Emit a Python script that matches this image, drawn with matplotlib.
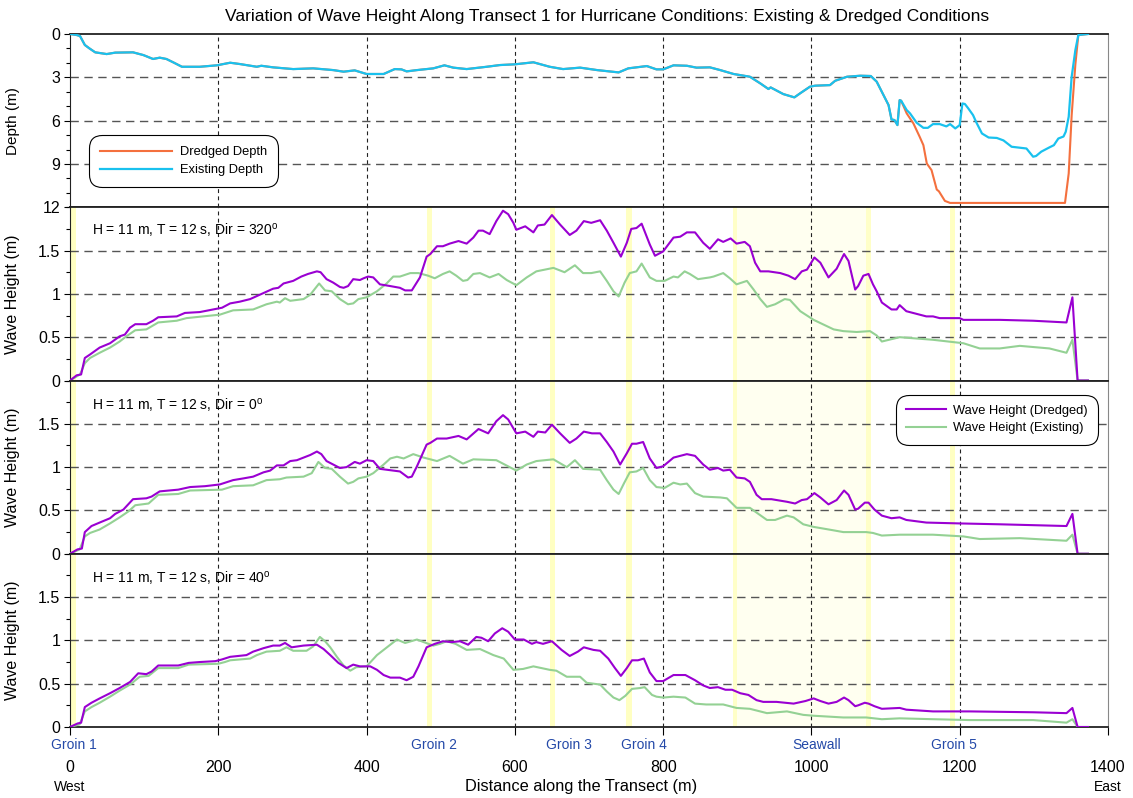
import numpy as np
import matplotlib
matplotlib.use("Agg")
import matplotlib.pyplot as plt
from matplotlib.ticker import MultipleLocator, FixedLocator
from matplotlib.lines import Line2D
import matplotlib.transforms as mtransforms

plt.rcParams['font.family'] = ['Liberation Sans', 'DejaVu Sans']
plt.rcParams['mathtext.fontset'] = 'custom'
plt.rcParams['mathtext.rm'] = 'Liberation Sans'

# ---- data (distance m, value) ----
depth_existing = [
    (0, 0), (9, 0.07), (13.5, 0.14), (20, 0.76), (26, 0.99), (34, 1.27), (49.5, 1.39), (61, 1.29),
    (85, 1.27), (99, 1.46), (112, 1.73), (121, 1.64), (130, 1.73), (139.5, 1.97), (151, 2.27),
    (175, 2.27), (198, 2.17), (216, 1.99), (229, 2.08), (252, 2.27), (258, 2.2), (274, 2.31),
    (301, 2.43), (328, 2.38), (355, 2.5), (369, 2.61), (384, 2.52), (400, 2.77), (423, 2.77),
    (438, 2.43), (447, 2.45), (454, 2.59), (468, 2.5), (490, 2.38), (505, 2.17), (517, 2.33),
    (535, 2.43), (562, 2.27), (580, 2.15), (600, 2.10), (625, 1.96), (647, 2.27), (665, 2.43),
    (688, 2.33), (711, 2.5), (740, 2.66), (753, 2.38), (778, 2.22), (791, 2.45), (800, 2.45),
    (814, 2.17), (832, 2.2), (845, 2.33), (863, 2.31), (877, 2.5), (895, 2.77), (917, 2.96),
    (931, 3.42), (942, 3.81), (945, 3.7), (962, 4.16), (977, 4.39), (985, 4.1), (998, 3.65),
    (1005, 3.58), (1025, 3.54), (1032, 3.24), (1048, 2.96), (1066, 2.89), (1080, 2.91),
    (1088, 3.3), (1096, 4.11), (1104, 4.92), (1108, 5.92), (1112, 5.96), (1116, 6.31),
    (1119, 4.58), (1121, 4.62), (1128.5, 5.27), (1133, 5.5), (1142, 6.15), (1151, 6.5),
    (1157, 6.5), (1164, 6.24), (1173, 6.24), (1182, 6.4), (1187, 6.24), (1194, 6.54),
    (1200, 6.31), (1203.6, 4.81), (1207, 4.85), (1211.5, 5.15), (1218, 5.62), (1222, 6.08),
    (1230, 6.89), (1239, 7.17), (1250, 7.2), (1259, 7.37), (1270, 7.81), (1290, 7.93),
    (1299, 8.5), (1303, 8.45), (1310, 8.15), (1320, 7.88), (1327, 7.7), (1333, 7.24),
    (1340, 7.1), (1343, 6.77), (1347, 5.73), (1351, 2.96), (1356, 1.11), (1360, 0.07), (1373, 0)]

# dredged profile follows the existing one up to the dredge cut
dredge_start = 1125
depth_dredged_tail = [
    (1128.5, 5.5), (1137.5, 6.19), (1146, 7.12), (1151, 7.7), (1155.6, 8.97), (1162, 9.43),
    (1169, 10.77), (1172, 10.9), (1180, 11.56), (1187, 11.7), (1342, 11.7), (1347, 9.66),
    (1351, 5.62), (1356, 2.1), (1360, 0.07), (1373, 0)]

wave_dredged_320 = [
    (0, 0), (9, 0.06), (15, 0.07), (20, 0.26), (27, 0.30), (40, 0.38), (54, 0.43), (67, 0.51),
    (74, 0.53), (81, 0.61), (88, 0.65), (103, 0.65), (112, 0.69), (119, 0.73), (144, 0.74),
    (155, 0.78), (175, 0.79), (193, 0.82), (205, 0.84), (216, 0.89), (229, 0.91), (243, 0.94),
    (261, 1.01), (274, 1.06), (281, 1.07), (288, 1.12), (301, 1.15), (312, 1.20), (321, 1.23),
    (333, 1.26), (338, 1.25), (346, 1.17), (355, 1.13), (364, 1.08), (369, 1.07), (375, 1.09),
    (382, 1.17), (391, 1.16), (396, 1.18), (402, 1.20), (409, 1.19), (418, 1.11), (432, 1.09),
    (445, 1.07), (452, 1.04), (461, 1.04), (472, 1.19), (481, 1.43), (486, 1.46), (495, 1.55),
    (503, 1.55), (512, 1.58), (524, 1.61), (535, 1.58), (544, 1.65), (551, 1.73), (557, 1.73),
    (566, 1.69), (575, 1.84), (584, 1.96), (591, 1.92), (598, 1.82), (602, 1.74), (614, 1.78),
    (625, 1.71), (631, 1.79), (640, 1.80), (650, 1.91), (661, 1.80), (674, 1.68), (683, 1.73),
    (693, 1.84), (703, 1.82), (715, 1.85), (724, 1.73), (733, 1.59), (743, 1.43), (751, 1.59),
    (757, 1.75), (764, 1.76), (771, 1.81), (782, 1.57), (789, 1.44), (800, 1.49), (814, 1.65),
    (823, 1.66), (832, 1.71), (843, 1.71), (854, 1.59), (863, 1.52), (874, 1.63), (881, 1.60),
    (891, 1.64), (899, 1.58), (910, 1.60), (917, 1.55), (924, 1.36), (931, 1.26), (942, 1.26),
    (958, 1.24), (969, 1.21), (978, 1.17), (987, 1.26), (994, 1.28), (1004, 1.42), (1012, 1.36),
    (1023, 1.19), (1034, 1.29), (1044, 1.46), (1050, 1.38), (1059, 1.05), (1063, 1.09),
    (1070, 1.21), (1077, 1.23), (1083, 1.11), (1088, 1.03), (1095, 0.90), (1108, 0.82),
    (1115, 0.82), (1119, 0.87), (1128, 0.80), (1146, 0.76), (1155, 0.74), (1164, 0.74),
    (1173, 0.72), (1200, 0.72), (1205, 0.70), (1254, 0.70), (1299, 0.69), (1344, 0.67),
    (1352, 0.96), (1359, 0), (1373, 0)]

wave_existing_320 = [
    (0, 0), (13.5, 0.07), (20, 0.20), (27, 0.26), (40, 0.32), (54, 0.38), (67, 0.45), (76, 0.51),
    (88, 0.58), (103, 0.59), (119, 0.67), (144, 0.69), (157, 0.72), (202, 0.76), (220, 0.81),
    (247, 0.82), (265, 0.88), (279, 0.91), (283, 0.90), (290, 0.95), (297, 0.92), (315, 0.94),
    (324, 0.99), (336, 1.12), (344, 1.04), (353, 1.03), (364, 0.94), (375, 0.88), (382, 0.89),
    (389, 0.94), (400, 0.96), (414, 1.03), (427, 1.12), (436, 1.20), (445, 1.20), (459, 1.24),
    (470, 1.24), (483, 1.21), (492, 1.18), (503, 1.23), (512, 1.26), (521, 1.21), (530, 1.15),
    (536, 1.16), (544, 1.23), (553, 1.24), (566, 1.19), (578, 1.23), (589, 1.16), (602, 1.10),
    (616, 1.19), (629, 1.26), (652, 1.30), (667, 1.25), (681, 1.33), (692, 1.24), (703, 1.24),
    (715, 1.26), (724, 1.15), (733, 1.03), (740, 0.97), (748, 1.13), (755, 1.24), (764, 1.26),
    (771, 1.35), (782, 1.19), (791, 1.15), (802, 1.15), (814, 1.20), (820, 1.19), (829, 1.26),
    (836, 1.23), (847, 1.17), (863, 1.19), (868, 1.20), (881, 1.24), (890, 1.18), (899, 1.11),
    (913, 1.15), (922, 1.05), (931, 0.94), (940, 0.85), (951, 0.88), (964, 0.94), (971, 0.93),
    (985, 0.80), (1003, 0.70), (1030, 0.59), (1043, 0.57), (1061, 0.56), (1079, 0.57),
    (1088, 0.52), (1095, 0.45), (1119, 0.50), (1164, 0.47), (1205, 0.43), (1227, 0.37),
    (1254, 0.37), (1281, 0.40), (1321, 0.37), (1344, 0.32), (1352, 0.47), (1359, 0), (1373, 0)]

wave_dredged_0 = [
    (0, 0), (10, 0.05), (16, 0.06), (20, 0.25), (29, 0.32), (40, 0.36), (54, 0.41), (61, 0.46),
    (72, 0.51), (85, 0.63), (103, 0.64), (110, 0.66), (121, 0.72), (146, 0.74), (162, 0.77),
    (182, 0.78), (202, 0.80), (220, 0.85), (234, 0.87), (247, 0.89), (261, 0.94), (270, 0.96),
    (279, 1.02), (288, 1.02), (297, 1.07), (306, 1.08), (315, 1.11), (324, 1.14), (333, 1.18),
    (339, 1.15), (346, 1.07), (355, 1.03), (364, 0.99), (373, 1.00), (384, 1.06), (391, 1.04),
    (400, 1.08), (409, 1.07), (418, 0.98), (436, 0.96), (445, 0.95), (456, 0.88), (461, 0.89),
    (468, 1.01), (481, 1.26), (486, 1.28), (495, 1.33), (508, 1.33), (524, 1.36), (535, 1.32),
    (551, 1.44), (564, 1.39), (575, 1.53), (584, 1.60), (591, 1.55), (602, 1.39), (614, 1.41),
    (625, 1.35), (631, 1.41), (641, 1.40), (650, 1.49), (661, 1.39), (674, 1.28), (683, 1.33),
    (693, 1.41), (704, 1.39), (715, 1.39), (724, 1.29), (733, 1.18), (742, 1.03), (751, 1.16),
    (758, 1.27), (764, 1.27), (773, 1.29), (782, 1.10), (791, 0.99), (800, 1.01), (814, 1.11),
    (832, 1.15), (843, 1.13), (854, 1.03), (863, 0.97), (874, 0.99), (881, 0.96), (890, 0.97),
    (899, 0.88), (910, 0.87), (917, 0.83), (926, 0.68), (933, 0.63), (946, 0.63), (967, 0.60),
    (978, 0.58), (987, 0.62), (994, 0.63), (1004, 0.70), (1012, 0.65), (1023, 0.57),
    (1034, 0.62), (1044, 0.73), (1050, 0.68), (1059, 0.51), (1063, 0.52), (1072, 0.59),
    (1077, 0.59), (1085, 0.51), (1095, 0.44), (1108, 0.41), (1119, 0.42), (1128, 0.39),
    (1155, 0.36), (1200, 0.35), (1254, 0.34), (1299, 0.33), (1344, 0.32), (1352, 0.46),
    (1359, 0), (1373, 0)]

wave_existing_0 = [
    (0, 0), (13, 0.05), (20, 0.20), (27, 0.24), (40, 0.28), (54, 0.35), (67, 0.42), (79, 0.49),
    (88, 0.56), (106, 0.58), (119, 0.68), (146, 0.69), (162, 0.73), (205, 0.74), (220, 0.78),
    (247, 0.79), (265, 0.85), (283, 0.86), (292, 0.88), (315, 0.89), (326, 0.93), (335, 1.06),
    (344, 0.99), (353, 0.98), (364, 0.89), (375, 0.81), (382, 0.83), (389, 0.87), (400, 0.89),
    (409, 0.93), (423, 1.03), (432, 1.10), (441, 1.12), (450, 1.10), (463, 1.15), (477, 1.11),
    (495, 1.07), (512, 1.13), (530, 1.04), (544, 1.09), (575, 1.08), (593, 1.00), (602, 0.96),
    (616, 1.03), (629, 1.07), (652, 1.09), (670, 1.00), (681, 1.08), (692, 0.98), (715, 0.97),
    (724, 0.85), (733, 0.74), (740, 0.69), (747, 0.81), (755, 0.94), (764, 0.95), (773, 0.99),
    (782, 0.85), (791, 0.77), (802, 0.76), (814, 0.82), (823, 0.80), (832, 0.81), (843, 0.70),
    (854, 0.66), (877, 0.65), (886, 0.64), (899, 0.53), (917, 0.53), (940, 0.39), (951, 0.39),
    (967, 0.44), (976, 0.42), (989, 0.34), (1003, 0.31), (1030, 0.27), (1043, 0.25),
    (1074, 0.25), (1083, 0.24), (1095, 0.21), (1119, 0.22), (1164, 0.22), (1205, 0.20),
    (1227, 0.17), (1281, 0.18), (1344, 0.15), (1352, 0.22), (1359, 0), (1373, 0)]

wave_dredged_40 = [
    (0, 0), (10, 0.04), (15, 0.05), (20, 0.23), (29, 0.28), (40, 0.33), (54, 0.39), (67, 0.45),
    (81, 0.52), (92, 0.62), (103, 0.61), (110, 0.64), (119, 0.71), (146, 0.71), (160, 0.74),
    (175, 0.75), (196, 0.76), (205, 0.78), (216, 0.81), (238, 0.83), (247, 0.87), (261, 0.91),
    (274, 0.94), (283, 0.94), (290, 0.97), (299, 0.92), (315, 0.94), (333, 0.95), (342, 0.90),
    (351, 0.83), (362, 0.74), (373, 0.68), (382, 0.72), (391, 0.70), (405, 0.70), (414, 0.66),
    (423, 0.60), (432, 0.57), (445, 0.57), (454, 0.54), (463, 0.58), (470, 0.70), (481, 0.92),
    (492, 0.96), (503, 0.99), (515, 0.98), (526, 0.99), (537, 0.95), (548, 1.04), (555, 1.03),
    (564, 0.99), (573, 1.08), (583, 1.14), (591, 1.10), (600, 1.01), (612, 1.01), (623, 0.96),
    (629, 0.98), (638, 0.96), (650, 0.99), (663, 0.89), (674, 0.82), (685, 0.87), (693, 0.92),
    (706, 0.89), (715, 0.88), (726, 0.79), (735, 0.68), (743, 0.59), (751, 0.68), (758, 0.77),
    (766, 0.77), (774, 0.79), (782, 0.63), (791, 0.53), (800, 0.53), (814, 0.60), (830, 0.60),
    (843, 0.54), (854, 0.48), (863, 0.45), (874, 0.46), (884, 0.43), (893, 0.43), (904, 0.39),
    (915, 0.37), (926, 0.31), (935, 0.29), (953, 0.29), (976, 0.27), (992, 0.30), (1003, 0.33),
    (1012, 0.30), (1023, 0.27), (1034, 0.29), (1044, 0.34), (1050, 0.31), (1059, 0.24),
    (1063, 0.25), (1072, 0.28), (1077, 0.27), (1085, 0.24), (1095, 0.21), (1119, 0.22),
    (1128, 0.20), (1164, 0.18), (1214, 0.18), (1299, 0.17), (1344, 0.16), (1352, 0.22),
    (1359, 0), (1373, 0)]

wave_existing_40 = [
    (0, 0), (13, 0.03), (20, 0.18), (29, 0.23), (40, 0.28), (54, 0.35), (67, 0.42), (81, 0.49),
    (94, 0.58), (106, 0.59), (119, 0.68), (146, 0.68), (160, 0.72), (200, 0.73), (209, 0.75),
    (216, 0.77), (243, 0.79), (252, 0.83), (265, 0.87), (283, 0.88), (292, 0.92), (301, 0.88),
    (319, 0.88), (328, 0.93), (337, 1.04), (344, 0.99), (351, 0.92), (360, 0.81), (369, 0.71),
    (378, 0.65), (386, 0.69), (400, 0.70), (414, 0.83), (429, 0.93), (441, 1.01), (452, 0.97),
    (468, 1.01), (477, 0.98), (490, 0.94), (499, 0.96), (508, 0.99), (520, 0.96), (535, 0.89),
    (553, 0.90), (571, 0.83), (585, 0.79), (598, 0.66), (611, 0.67), (625, 0.70), (647, 0.66),
    (656, 0.65), (670, 0.58), (688, 0.58), (697, 0.51), (715, 0.49), (724, 0.41), (733, 0.34),
    (741, 0.31), (749, 0.36), (758, 0.44), (769, 0.45), (775, 0.46), (785, 0.37), (791, 0.35),
    (800, 0.34), (814, 0.35), (830, 0.34), (843, 0.27), (858, 0.26), (881, 0.26), (899, 0.22),
    (917, 0.21), (940, 0.16), (967, 0.18), (989, 0.14), (1003, 0.13), (1043, 0.11),
    (1074, 0.11), (1095, 0.09), (1119, 0.10), (1164, 0.09), (1214, 0.08), (1299, 0.08),
    (1344, 0.05), (1352, 0.09), (1359, 0), (1373, 0)]

wave_cases = ['320', '0', '40']
groin_x = [5, 485, 651, 754, 1190]
seawall = (894, 1080)
struct_labels = ['Groin 1', 'Groin 2', 'Groin 3', 'Groin 4', 'Seawall', 'Groin 5']
struct_label_x = [5, 491, 673, 774, 1007, 1192]

C_DREDGED_D = '#f4703e'
C_EXIST_D = '#19c1ee'
C_DREDGED_H = '#9a00d2'
C_EXIST_H = '#94d194'


def xy(pts):
    a = np.array(pts, dtype=float)
    return a[:, 0], a[:, 1]


fig = plt.figure(figsize=(11.33, 7.98), dpi=100)
FW, FH = 1133.0, 798.0
left, width, ph = 70 / FW, 1038 / FW, 173.25 / FH
tops = [34, 207.25, 380.5, 553.75]
axs = [fig.add_axes([left, 1 - (t + 173.25) / FH, width, ph]) for t in tops]


def base_style(ax, bottom=False):
    ax.set_xlim(0, 1400)
    for xv in range(200, 1400, 200):
        ax.axvline(xv, color='#222222', lw=0.8, ls=(0, (3.5, 3)), zorder=2)
    ax.spines['top'].set_color('#222222')
    ax.spines['top'].set_linewidth(1.3)
    ax.spines['bottom'].set_color('#222222')
    ax.spines['bottom'].set_linewidth(1.3)
    ax.spines['left'].set_color('#222222')
    ax.spines['right'].set_color('#888888')
    ax.tick_params(axis='y', which='major', direction='out', length=4, width=0.8,
                   labelsize=11.5, pad=3)
    ax.tick_params(axis='y', which='minor', direction='out', length=3, width=0.8)
    ax.tick_params(axis='y', which='both', right=False)
    if bottom:
        ax.set_xticks(range(0, 1401, 200))
        ax.tick_params(axis='x', direction='out', length=6, width=0.8, labelsize=11.5, pad=18)
    else:
        ax.tick_params(axis='x', which='both', bottom=False, top=False, labelbottom=False)


# ---- depth panel ----
ax = axs[0]
base_style(ax)
ex_x, ex_d = xy(depth_existing)
tail_x, tail_d = xy(depth_dredged_tail)
keep = ex_x < dredge_start
dr_x = np.concatenate([ex_x[keep], tail_x])
dr_d = np.concatenate([ex_d[keep], tail_d])
ax.set_ylim(12, 0)
ax.set_yticks([0, 3, 6, 9, 12])
ax.yaxis.set_minor_locator(MultipleLocator(1))
for yv in [3, 6, 9]:
    ax.axhline(yv, color='#555555', lw=1.0, ls=(0, (6, 4)), zorder=2)
ax.plot(dr_x, dr_d, color=C_DREDGED_D, lw=1.5, zorder=4, label='Dredged Depth')
ax.plot(ex_x, ex_d, color=C_EXIST_D, lw=1.6, zorder=5, label='Existing Depth')
ax.set_ylabel('Depth (m)', fontsize=11)
ax.yaxis.set_label_coords(-0.048, 0.5)
leg = ax.legend(loc='upper left', bbox_to_anchor=(0.022, 0.393), borderaxespad=0,
                fontsize=9.3, handlelength=5.6, handletextpad=0.6, labelspacing=0.45,
                borderpad=0.55, fancybox=True, framealpha=1, edgecolor='black')
leg.get_frame().set_linewidth(0.8)
leg.get_frame().set_boxstyle('round,pad=0.3,rounding_size=1.0')

# ---- wave height panels ----
series = {
    '320': (wave_dredged_320, wave_existing_320),
    '0': (wave_dredged_0, wave_existing_0),
    '40': (wave_dredged_40, wave_existing_40),
}
ann_y = [0.869, 0.859, 0.86]
for i, case in enumerate(wave_cases):
    ax = axs[i + 1]
    base_style(ax, bottom=(i == 2))
    ax.set_ylim(0, 2)
    ax.yaxis.set_major_locator(FixedLocator([0, 0.5, 1, 1.5]))
    ax.set_yticklabels(['0', '0.5', '1', '1.5'])
    ax.yaxis.set_minor_locator(MultipleLocator(0.25))
    for yv in [0.5, 1, 1.5]:
        ax.axhline(yv, color='#555555', lw=1.0, ls=(0, (6, 4)), zorder=2)
    # structures
    for gx in groin_x:
        ax.axvspan(gx - 3.5, gx + 3.5, color='#ffffc2', lw=0, zorder=0)
    ax.axvspan(seawall[0], seawall[1], color='#fffff0', lw=0, zorder=0)
    ax.axvspan(seawall[0], seawall[0] + 6, color='#ffffc8', lw=0, zorder=0)
    ax.axvspan(seawall[1] - 6, seawall[1], color='#ffffc8', lw=0, zorder=0)
    d_pts, e_pts = series[case]
    ex, eh = xy(e_pts)
    dx, dh = xy(d_pts)
    ax.plot(ex, eh, color=C_EXIST_H, lw=1.5, zorder=4, label='Wave Height (Existing)')
    ax.plot(dx, dh, color=C_DREDGED_H, lw=1.5, zorder=5, label='Wave Height (Dredged)')
    ax.text(0.0212, ann_y[i], 'H = 11 m, T = 12 s, Dir = ' + case + r'$^{\mathrm{o}}$',
            transform=ax.transAxes, fontsize=10, va='center', ha='left')
    ax.set_ylabel('Wave Height (m)', fontsize=11.5)
    ax.yaxis.set_label_coords(-0.048, 0.5)

# legend for wave heights in the middle panel
ax = axs[2]
handles = [Line2D([], [], color=C_DREDGED_H, lw=1.5), Line2D([], [], color=C_EXIST_H, lw=1.5)]
leg2 = ax.legend(handles, ['Wave Height (Dredged)', 'Wave Height (Existing)'],
                 loc='upper right', bbox_to_anchor=(0.987, 0.896), borderaxespad=0,
                 fontsize=9.3, handlelength=3.1, handletextpad=0.55, labelspacing=0.4,
                 borderpad=0.5, fancybox=True, framealpha=1, edgecolor='black')
leg2.get_frame().set_linewidth(0.8)
leg2.get_frame().set_boxstyle('round,pad=0.3,rounding_size=1.0')

# bottom annotations
ax = axs[3]
trans = mtransforms.blended_transform_factory(ax.transData, ax.transAxes)
for lx, lab in zip(struct_label_x, struct_labels):
    ax.text(lx, -18 / 173.25, lab, transform=trans, color='#2449a8', fontsize=10,
            ha='center', va='center', clip_on=False)
ax.text(0, -60 / 173.25, 'West', transform=trans, fontsize=10, ha='center', va='center')
ax.text(1400, -60 / 173.25, 'East', transform=trans, fontsize=10, ha='center', va='center')
ax.text((581 - 70) / 1038, -59 / 173.25, 'Distance along the Transect (m)',
        transform=ax.transAxes, fontsize=11.8, ha='center', va='center')

fig.text(607 / FW, 1 - 17 / FH,
         'Variation of Wave Height Along Transect 1 for Hurricane Conditions: '
         'Existing & Dredged Conditions', fontsize=12.5, ha='center', va='center')

fig.savefig('out.png', dpi=100)
